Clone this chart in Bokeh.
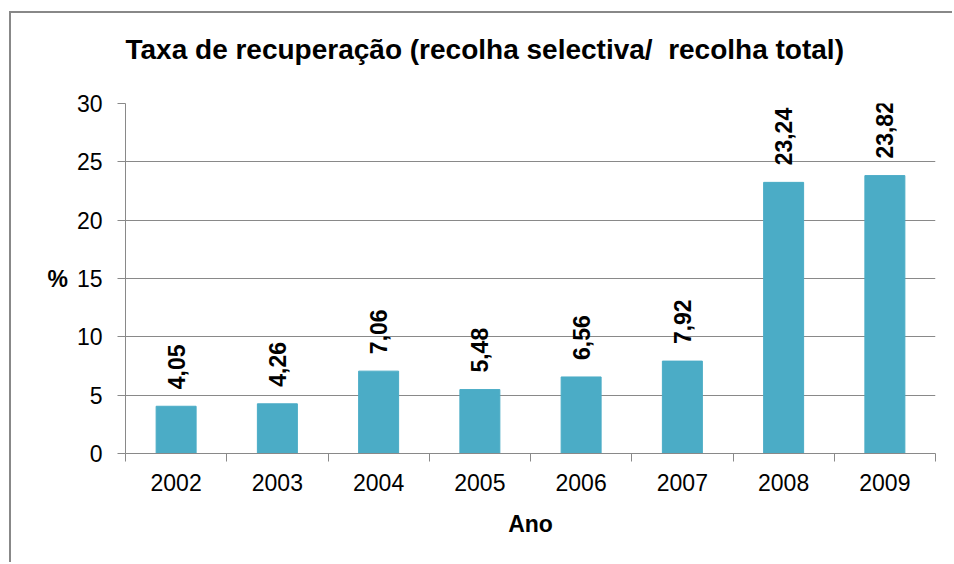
import math
from bokeh.plotting import figure
from bokeh.models import Range1d, FixedTicker, ColumnDataSource, Title
from bokeh.core.properties import value
from bokeh.embed import file_html
from bokeh.resources import INLINE

years = ["2002", "2003", "2004", "2005", "2006", "2007", "2008", "2009"]
rates = [4.05, 4.26, 7.06, 5.48, 6.56, 7.92, 23.24, 23.82]
y_ticks = [0, 5, 10, 15, 20, 25, 30]
title_text = "Taxa de recuperação (recolha selectiva/\u00a0 recolha total)"

FONT = "Liberation Sans"
GRAY = "#898989"
BAR = "#4BACC6"

xs = [i + 0.5 for i in range(len(years))]
labels = [("%.2f" % v).replace(".", ",") for v in rates]
src = ColumnDataSource(dict(x=xs, top=rates, label=labels))

p = figure(width=943, height=551, output_backend="svg", toolbar_location=None,
           x_range=Range1d(0, len(years)), y_range=Range1d(0, 30),
           title=title_text,
           min_border_left=114, min_border_right=19, min_border_top=0,
           min_border_bottom=111)
p.styles = {"margin-left": "11px", "margin-top": "13px",
            "box-shadow": "-2px -2px 0 0 #888888"}
p.outline_line_color = None
p.background_fill_color = "white"
p.border_fill_color = "white"

# main title (outermost)
p.title.align = "left"
p.title.vertical_align = "top"
p.title.standoff = 40
p.title.text_font = FONT
p.title.text_font_style = "bold"
p.title.text_font_size = "28px"
p.title.text_color = "black"

# spacer title between main title and plot area
p.add_layout(Title(text=" ", standoff=4, text_font_size="10px"), "above")

p.vbar(x="x", top="top", width=0.395, bottom=0, source=src,
       fill_color=BAR, line_color=BAR)

p.text(x="x", y="top", text="label", source=src, angle=math.pi / 2,
       text_align="left", text_baseline="middle", y_offset=-17,
       text_font=value(FONT), text_font_style="bold",
       text_font_size="23px", text_color="black")

# axes
p.xgrid.grid_line_color = None
p.ygrid.grid_line_color = GRAY
p.ygrid.grid_line_width = 1

xa = p.xaxis[0]
xa.ticker = FixedTicker(ticks=xs, minor_ticks=list(range(len(years) + 1)))
xa.major_label_overrides = {x: y for x, y in zip(xs, years)}
xa.major_tick_line_color = None
xa.minor_tick_line_color = GRAY
xa.minor_tick_in = 0
xa.minor_tick_out = 8
xa.axis_line_color = GRAY
xa.major_label_text_font = FONT
xa.major_label_text_font_size = "23px"
xa.major_label_text_color = "black"
xa.major_label_standoff = 12
xa.axis_label = "Ano"
xa.axis_label_text_font = FONT
xa.axis_label_text_font_size = "23px"
xa.axis_label_text_font_style = "bold"
xa.axis_label_text_color = "black"
xa.axis_label_standoff = 17

ya = p.yaxis[0]
ya.ticker = FixedTicker(ticks=y_ticks)
ya.major_tick_line_color = GRAY
ya.major_tick_in = 0
ya.major_tick_out = 8
ya.minor_tick_line_color = None
ya.axis_line_color = GRAY
ya.major_label_text_font = FONT
ya.major_label_text_font_size = "23px"
ya.major_label_text_color = "black"
ya.major_label_standoff = 15
ya.axis_label = "%"
ya.axis_label_orientation = "horizontal"
ya.axis_label_text_font = FONT
ya.axis_label_text_font_size = "23px"
ya.axis_label_text_font_style = "bold"
ya.axis_label_text_color = "black"
ya.axis_label_standoff = 6

open("out.html", "w").write(file_html(p, INLINE))
